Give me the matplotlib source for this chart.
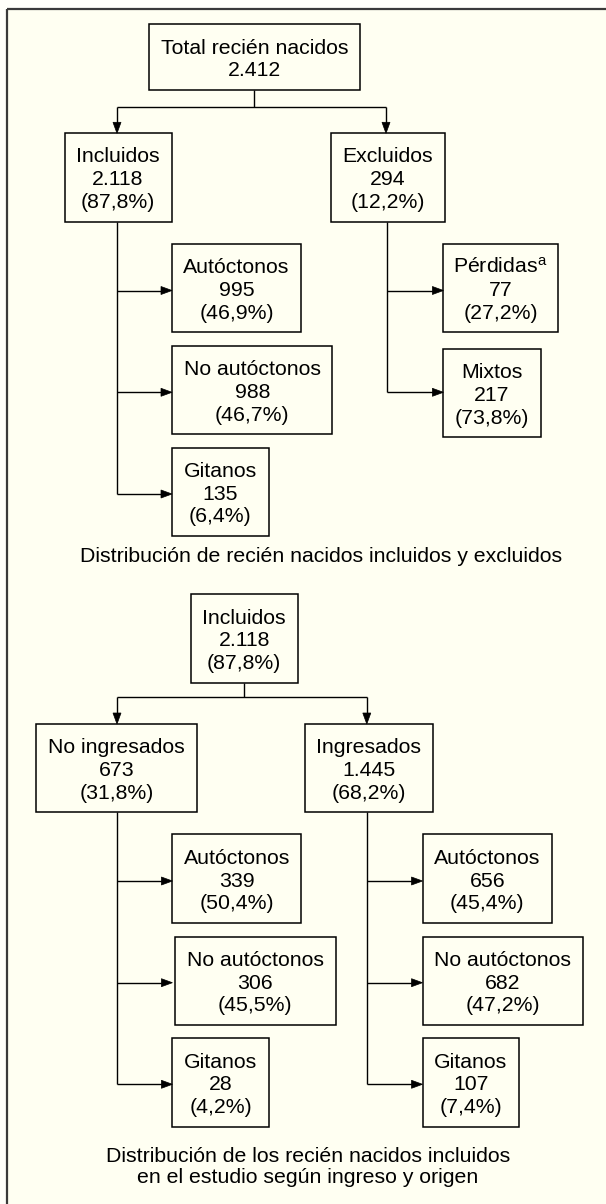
import matplotlib
matplotlib.use("Agg")
import matplotlib.pyplot as plt
from matplotlib.patches import Rectangle, Polygon

plt.rcParams['font.family'] = ['Liberation Sans', 'DejaVu Sans']
plt.rcParams['mathtext.fontset'] = 'custom'
plt.rcParams['mathtext.rm'] = 'Liberation Sans'
plt.rcParams['mathtext.it'] = 'Liberation Sans'

# ---------------- data ----------------
total_label = "Total recién nacidos"
total_n = "2.412"

split1_labels = ["Incluidos", "Excluidos"]
split1_n = ["2.118", "294"]
split1_pct = ["87,8%", "12,2%"]

incl_sub_labels = ["Autóctonos", "No autóctonos", "Gitanos"]
incl_sub_n = ["995", "988", "135"]
incl_sub_pct = ["46,9%", "46,7%", "6,4%"]

excl_sub_labels = ["Pérdidas$^{\\mathrm{a}}$", "Mixtos"]
excl_sub_n = ["77", "217"]
excl_sub_pct = ["27,2%", "73,8%"]

caption1 = "Distribución de recién nacidos incluidos y excluidos"

root2_label = "Incluidos"
root2_n = "2.118"
root2_pct = "87,8%"

split2_labels = ["No ingresados", "Ingresados"]
split2_n = ["673", "1.445"]
split2_pct = ["31,8%", "68,2%"]

origin_labels = ["Autóctonos", "No autóctonos", "Gitanos"]
noing_sub_n = ["339", "306", "28"]
noing_sub_pct = ["50,4%", "45,5%", "4,2%"]
ing_sub_n = ["656", "682", "107"]
ing_sub_pct = ["45,4%", "47,2%", "7,4%"]

caption2_lines = ["Distribución de los recién nacidos incluidos",
                  "en el estudio según ingreso y origen"]

# ---------------- layout (pixels) ----------------
W, H = 606, 1204
BG_IN = "#fffff2"
BG_OUT = "#fffffa"
FS = 15.3
LINE = 22.8
LW = 1.0

fig = plt.figure(figsize=(W / 100, H / 100), dpi=100)
fig.patch.set_facecolor(BG_OUT)
ax = fig.add_axes([0, 0, 1, 1])
ax.set_xlim(0, W)
ax.set_ylim(H, 0)
ax.axis('off')

# frame
ax.add_patch(Rectangle((7, 9), W, H, facecolor=BG_IN, edgecolor='none', zorder=0))
ax.plot([7, 7], [9, H], color='#3a3a3a', lw=1.6, solid_capstyle='butt', zorder=1)
ax.plot([7, W], [9, 9], color='#3a3a3a', lw=1.6, solid_capstyle='butt', zorder=1)


def box(x0, x1, y0, y1, lines):
    ax.add_patch(Rectangle((x0, y0), x1 - x0, y1 - y0, facecolor='none',
                           edgecolor='black', lw=1.1, zorder=3))
    cx = (x0 + x1) / 2
    cy = (y0 + y1) / 2
    n = len(lines)
    for i, t in enumerate(lines):
        by = cy + 7.8 + (i - (n - 1) / 2) * LINE
        ax.text(cx, by, t, ha='center', va='baseline', fontsize=FS, color='black', zorder=4)


def seg(xs, ys):
    ax.plot(xs, ys, color='black', lw=LW, solid_capstyle='butt', zorder=2)


def head(x, y, direction, hl=11, hw=8):
    if direction == 'down':
        pts = [(x, y), (x - hw / 2, y - hl), (x + hw / 2, y - hl)]
    else:  # right
        pts = [(x, y), (x - hl, y - hw / 2), (x - hl, y + hw / 2)]
    ax.add_patch(Polygon(pts, closed=True, facecolor='black', edgecolor='black', lw=0.5, zorder=3))


def split(stem_x, y_top, y_bar, y_child, child_xs):
    seg([stem_x, stem_x], [y_top, y_bar])
    seg([min(child_xs), max(child_xs)], [y_bar, y_bar])
    for cx in child_xs:
        seg([cx, cx], [y_bar, y_child - 10])
        head(cx, y_child, 'down')


def branch(x, y_top, arrow_ys, x_end):
    seg([x, x], [y_top, max(arrow_ys)])
    for ay, xe in zip(arrow_ys, x_end):
        seg([x, xe - 10], [ay, ay])
        head(xe, ay, 'right')


# ---------- diagram 1 ----------
box(149, 360, 24.3, 90.3, [total_label, total_n])
split(254, 90.3, 106.7, 133.3, [117, 386])

b1 = [(64.5, 171.6), (330.5, 444.5)]
for (x0, x1), lab, n, p in zip(b1, split1_labels, split1_n, split1_pct):
    box(x0, x1, 133.3, 221.7, [lab, n, "(" + p + ")"])

inc_rects = [(172, 301, 244, 332.3), (172, 332.4, 346, 434.3), (172, 268.6, 447.7, 536)]
for r, lab, n, p in zip(inc_rects, incl_sub_labels, incl_sub_n, incl_sub_pct):
    box(*r, [lab, n, "(" + p + ")"])
branch(117, 221.7, [290.5, 392.3, 494], [172, 172, 172])

exc_rects = [(443.4, 557.8, 244, 332.3), (443.4, 540.8, 349.3, 437.3)]
for r, lab, n, p in zip(exc_rects, excl_sub_labels, excl_sub_n, excl_sub_pct):
    box(*r, [lab, n, "(" + p + ")"])
branch(387, 221.7, [290.5, 392.3], [443.4, 443.4])

ax.text(321, 562, caption1, ha='center', va='baseline', fontsize=FS, color='black')

# ---------- diagram 2 ----------
box(190.6, 297.6, 594.3, 682.7, [root2_label, root2_n, "(" + root2_pct + ")"])
split(244, 682.7, 697.3, 724, [117, 366.8])

b2 = [(36.3, 196.7), (305, 432.9)]
for (x0, x1), lab, n, p in zip(b2, split2_labels, split2_n, split2_pct):
    box(x0, x1, 724, 812.3, [lab, n, "(" + p + ")"])

left_rects = [(172.4, 301, 834.3, 923.3), (174.7, 335.5, 936.7, 1025), (172.4, 269, 1038.3, 1126.7)]
for r, lab, n, p in zip(left_rects, origin_labels, noing_sub_n, noing_sub_pct):
    box(*r, [lab, n, "(" + p + ")"])
branch(117, 812.3, [881, 982.7, 1084.3], [172.4, 172.4, 172.4])

right_rects = [(422.5, 552, 834.3, 923.3), (422.5, 583.3, 936.7, 1025), (422.5, 518.8, 1038.3, 1126.7)]
for r, lab, n, p in zip(right_rects, origin_labels, ing_sub_n, ing_sub_pct):
    box(*r, [lab, n, "(" + p + ")"])
branch(366.8, 812.3, [881, 982.7, 1084.3], [422.5, 422.5, 422.5])

for i, line in enumerate(caption2_lines):
    ax.text(308, 1162 + i * 21, line, ha='center', va='baseline', fontsize=FS, color='black')

fig.savefig("out.png", dpi=100, facecolor=fig.get_facecolor())
